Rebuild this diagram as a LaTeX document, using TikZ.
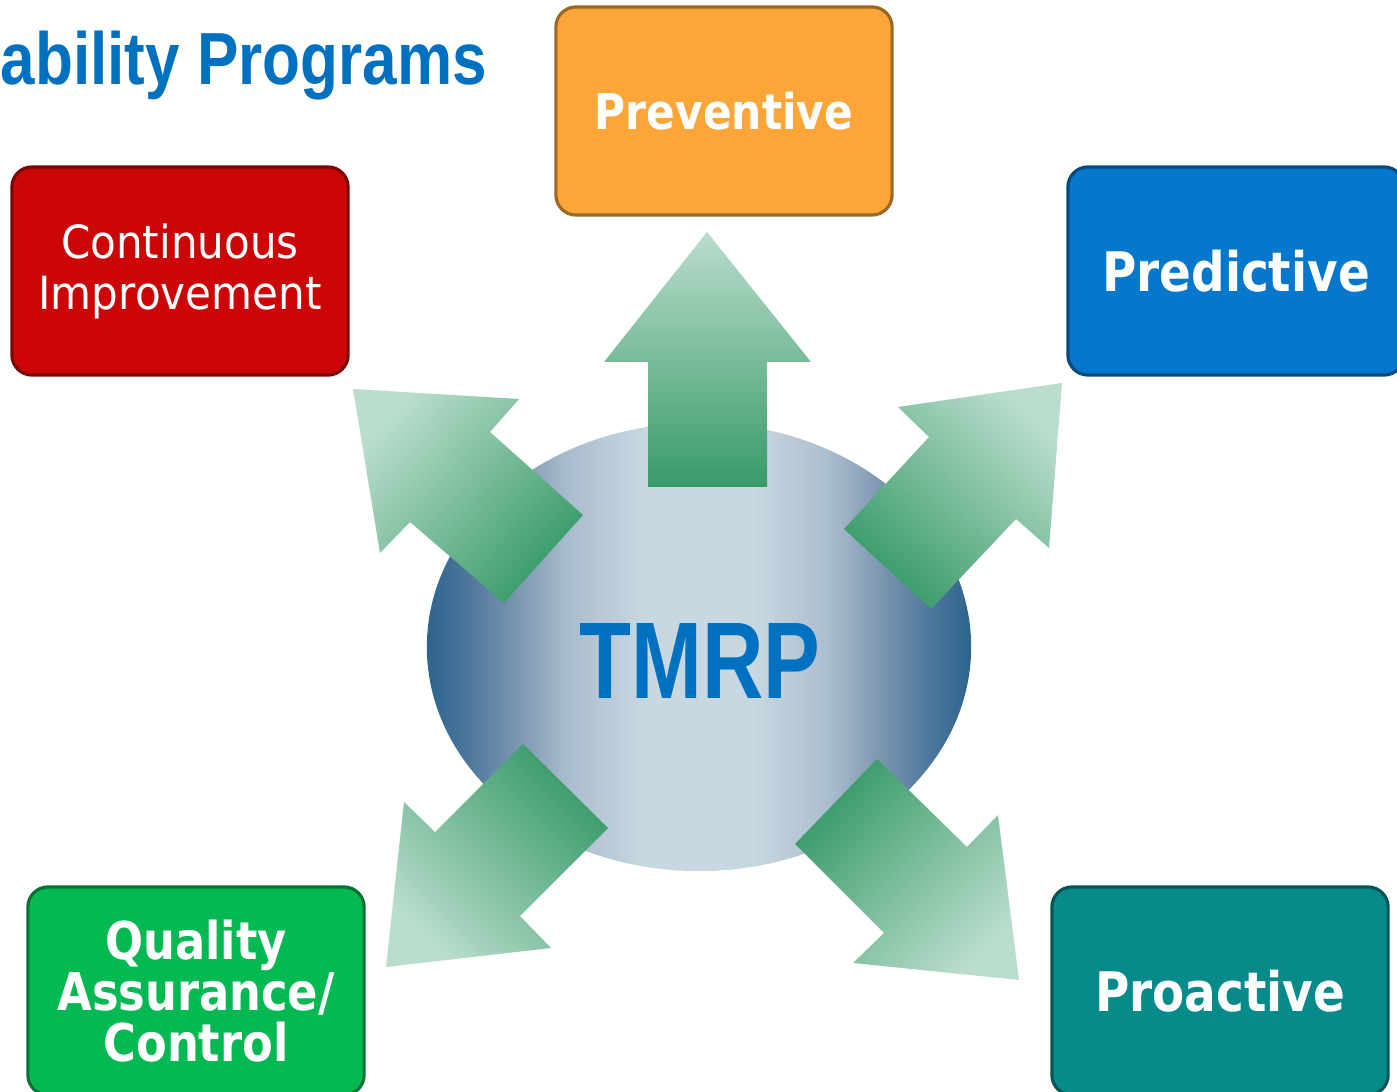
\documentclass[tikz,border=0pt]{standalone}
\usepackage{fontspec}
\usetikzlibrary{shapes.geometric}
\newfontfamily\headfont[FakeStretch=0.84]{Liberation Sans}
\newfontfamily\hubfont[FakeStretch=0.78]{Liberation Sans}
\newfontfamily\tagfont[FakeStretch=0.86]{DejaVu Sans}
\newfontfamily\taglight[FakeStretch=0.92]{DejaVu Sans}
\definecolor{progBlue}{RGB}{0,112,192}
\definecolor{tagOrange}{RGB}{252,165,56}
\definecolor{tagRed}{RGB}{204,6,6}
\definecolor{tagBlue}{RGB}{5,119,204}
\definecolor{tagGreen}{RGB}{5,185,82}
\definecolor{tagTeal}{RGB}{6,138,138}
\definecolor{hubDark}{RGB}{44,100,140}
\definecolor{hubDeep}{RGB}{80,120,158}
\definecolor{hubMid}{RGB}{120,148,174}
\definecolor{hubSoft}{RGB}{170,189,205}
\definecolor{hubLight}{RGB}{200,216,226}
\definecolor{flowDark}{RGB}{56,154,104}
\definecolor{flowLight}{RGB}{186,221,205}
\pgfdeclarehorizontalshading{hubshade}{100bp}{color(0bp)=(hubDark); color(25bp)=(hubDark);
  color(29bp)=(hubDeep); color(33bp)=(hubMid); color(38bp)=(hubSoft); color(45bp)=(hubLight);
  color(55bp)=(hubLight); color(62bp)=(hubSoft); color(67bp)=(hubMid); color(71bp)=(hubDeep);
  color(75bp)=(hubDark); color(100bp)=(hubDark)}
\tikzset{tmrpmap/.style={
  x=0.01cm, y=-0.01cm,
  tag/.style={rectangle, rounded corners=0.2cm, fill=##1, draw=##1!62!black, line width=0.9pt,
    minimum width=3.36cm, minimum height=2.08cm, inner sep=0pt, align=center, text=white},
  boldtag/.style={font=\tagfont\bfseries\fontsize{##1}{14.5}\selectfont},
  hub/.style={ellipse, shade, shading=hubshade, draw=none, minimum width=5.44cm,
    minimum height=4.48cm, inner sep=0pt},
  flow/.style={top color=flowLight, bottom color=flowDark, draw=none},
}}

\begin{document}
\begin{tikzpicture}[tmrpmap]
\useasboundingbox (0,0) rectangle (1397,1092);

\node[font=\headfont\bfseries\fontsize{21}{25}\selectfont, text=progBlue, anchor=base west, inner sep=0pt]
  (title) at (0,85) {ability Programs};

% the five programme boxes
\node[tag=tagOrange, boldtag=14] (prev) at (724,111) {Preventive};
\node[tag=tagRed, font=\taglight\fontsize{13}{14.5}\selectfont] (cont) at (180,271) {Continuous\\Improvement};
\node[tag=tagBlue, boldtag=15.5] (pred) at (1236,271) {Predictive};
\node[tag=tagGreen, boldtag=14.8] (qac) at (196,991) {Quality\\Assurance/\\Control};
\node[tag=tagTeal, boldtag=15.5] (proa) at (1220,991) {Proactive};

% centre
\node[hub] (hub) at (699,647) {};
\node[font=\hubfont\bfseries\fontsize{31}{36}\selectfont, text=progBlue, inner sep=0pt] (hubtxt) at (700,661) {TMRP};

% block arrows out of the hub
\shade[flow] (707,232) -- (811,362) -- (767,362) -- (767,487) -- (648,487) -- (648,362) -- (604,362) -- cycle;
\shade[flow, shading angle=48] (353,389) -- (519,399) -- (490,432) -- (583,515) -- (504,603) -- (410,522) -- (380,553) -- cycle;
\shade[flow, shading angle=-43] (1062,383) -- (1049,548) -- (1016,519) -- (931,609) -- (844,529) -- (929,437) -- (898,407) -- cycle;
\shade[flow, shading angle=135] (386,967) -- (404,802) -- (435,832) -- (523,744) -- (608,828) -- (520,916) -- (551,948) -- cycle;
\shade[flow, shading angle=-134] (1019,980) -- (998,815) -- (967,847) -- (877,759) -- (795,844) -- (884,933) -- (853,963) -- cycle;

\end{tikzpicture}
\end{document}
